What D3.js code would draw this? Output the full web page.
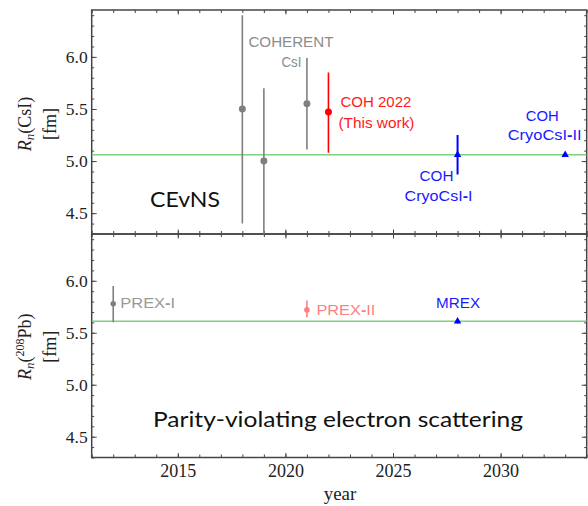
<!DOCTYPE html>
<html>
<head>
<meta charset="utf-8">
<script src="https://cdn.jsdelivr.net/npm/d3@7"></script>
<style>
  body { margin: 0; background: #fff; }
  svg { display: block; }
</style>
</head>
<body>
<svg id="chart" width="588" height="506"></svg>
<script>
// ---- CEvNS determinations of the CsI neutron radius ----
const cevnsYears = [2018, 2019, 2021, 2022, 2028, 2033];
const cevnsRn    = [5.50, 5.00, 5.55, 5.47, 5.06, 5.06];
const cevnsLow   = [4.40, 3.60, 5.11, 5.08, 4.87, 5.04];
const cevnsHigh  = [6.40, 5.70, 5.99, 5.85, 5.25, 5.08];
const cevnsGroup = ["COHERENT", "COHERENT", "COHERENT", "COH2022", "CryoCsI", "CryoCsI"];

// ---- Parity-violating electron scattering on 208Pb ----
const pvesYears = [2012, 2021, 2028];
const pvesRn    = [5.78, 5.72, 5.61];
const pvesLow   = [5.60, 5.65, 5.59];
const pvesHigh  = [5.95, 5.81, 5.63];
const pvesGroup = ["PREX-I", "PREX-II", "MREX"];

// reference (theory) radii drawn as horizontal lines
const refCsI = 5.06;
const refPb  = 5.61;

// axis ticks
const yearTicks = [2015, 2020, 2025, 2030];
const rnTicks   = [4.5, 5.0, 5.5, 6.0];
const yearDomain = [2011, 2034];
const rnDomain   = [4.3, 6.45];

// ---------------------------------------------------------------
const svg = d3.select("#chart");
const left = 91.7, right = 586.7;
const topPanel = { top: 10, bottom: 234 };
const botPanel = { top: 234, bottom: 457.5 };

const x  = d3.scaleLinear().domain(yearDomain).range([left, right]);
const yA = d3.scaleLinear().domain(rnDomain).range([topPanel.bottom, topPanel.top]);
const yB = d3.scaleLinear().domain(rnDomain).range([botPanel.bottom, botPanel.top]);

const colors = {
  "COHERENT": "#7f7f7f",
  "COH2022": "#ff0000",
  "CryoCsI": "#0000ff",
  "PREX-I": "#808080",
  "PREX-II": "#ff8080",
  "MREX": "#0000ff"
};

const frameColor = "#454545";
const serif = "'Liberation Serif', 'Times New Roman', serif";
const sans = "'Liberation Sans', Arial, sans-serif";
const bigSans = "Lato, 'Open Sans', sans-serif";

const defs = svg.append("defs");
[["clipA", topPanel], ["clipB", botPanel]].forEach(([id, p]) => {
  defs.append("clipPath").attr("id", id)
    .append("rect").attr("x", left).attr("y", p.top)
    .attr("width", right - left).attr("height", p.bottom - p.top);
});

function styleAxis(g) {
  g.select(".domain").remove();
  g.selectAll(".tick line").attr("stroke", frameColor).attr("stroke-width", 1);
}

const minorRn = d3.range(43, 65).map(d => d / 10);
const minorYears = d3.range(yearDomain[0], yearDomain[1] + 1);

function drawFrame(y, p, withYearLabels) {
  const g = svg.append("g");
  // left axis with labels
  g.append("g").attr("transform", `translate(${left},0)`)
    .call(d3.axisLeft(y).tickValues(rnTicks).tickSizeInner(-5).tickSizeOuter(0)
      .tickPadding(4).tickFormat(d3.format(".1f")))
    .call(styleAxis)
    .call(a => a.selectAll("text").attr("font-family", serif).attr("font-size", 17.5).attr("fill", "#222"));
  g.append("g").attr("transform", `translate(${left},0)`)
    .call(d3.axisLeft(y).tickValues(minorRn).tickSize(-2.5).tickFormat(""))
    .call(styleAxis);
  // right axis
  g.append("g").attr("transform", `translate(${right},0)`)
    .call(d3.axisRight(y).tickValues(rnTicks).tickSize(-5).tickFormat(""))
    .call(styleAxis);
  g.append("g").attr("transform", `translate(${right},0)`)
    .call(d3.axisRight(y).tickValues(minorRn).tickSize(-2.5).tickFormat(""))
    .call(styleAxis);
  // top edge ticks (pointing down into the panel)
  g.append("g").attr("transform", `translate(0,${p.top})`)
    .call(d3.axisTop(x).tickValues(minorYears).tickSize(-3).tickFormat(""))
    .call(styleAxis);
  g.append("g").attr("transform", `translate(0,${p.top})`)
    .call(d3.axisTop(x).tickValues(yearTicks).tickSize(-4.5).tickFormat(""))
    .call(styleAxis);
  // bottom edge ticks (pointing up into the panel)
  g.append("g").attr("transform", `translate(0,${p.bottom})`)
    .call(d3.axisBottom(x).tickValues(minorYears).tickSize(-3).tickFormat(""))
    .call(styleAxis);
  g.append("g").attr("transform", `translate(0,${p.bottom})`)
    .call(d3.axisBottom(x).tickValues(yearTicks).tickSizeInner(-4.5).tickSizeOuter(0)
      .tickPadding(6.5).tickFormat(withYearLabels ? d3.format("d") : ""))
    .call(styleAxis)
    .call(a => a.selectAll("text").attr("font-family", serif).attr("font-size", 18).attr("fill", "#222"));
  // frame
  g.append("rect").attr("x", left).attr("y", p.top)
    .attr("width", right - left).attr("height", p.bottom - p.top)
    .attr("fill", "none").attr("stroke", frameColor).attr("stroke-width", 1.5);
}

function drawSeries(y, clip, years, rn, lo, hi, groups, refValue, markerFor) {
  const g = svg.append("g").attr("clip-path", `url(#${clip})`);
  g.append("line")
    .attr("x1", left).attr("x2", right)
    .attr("y1", y(refValue)).attr("y2", y(refValue))
    .attr("stroke", "#7fd07f").attr("stroke-width", 1.6);
  const idx = d3.range(years.length);
  g.selectAll("line.err").data(idx).join("line").attr("class", "err")
    .attr("x1", i => x(years[i])).attr("x2", i => x(years[i]))
    .attr("y1", i => y(lo[i])).attr("y2", i => y(hi[i]))
    .attr("stroke", i => colors[groups[i]])
    .attr("stroke-width", i => groups[i] === "CryoCsI" ? 2 : 1.6);
  g.selectAll("path.pt").data(idx).join("path").attr("class", "pt")
    .attr("transform", i => `translate(${x(years[i])},${y(rn[i])})`)
    .attr("d", i => markerFor(groups[i]))
    .attr("fill", i => colors[groups[i]]);
}

const circleBig = d3.symbol(d3.symbolCircle, 38)();
const circleSmall = d3.symbol(d3.symbolCircle, 24)();
const triangle = d3.symbol(d3.symbolTriangle, 24)();

drawFrame(yA, topPanel, false);
drawFrame(yB, botPanel, true);

drawSeries(yA, "clipA", cevnsYears, cevnsRn, cevnsLow, cevnsHigh, cevnsGroup, refCsI,
  grp => grp === "CryoCsI" ? triangle : circleBig);
drawSeries(yB, "clipB", pvesYears, pvesRn, pvesLow, pvesHigh, pvesGroup, refPb,
  grp => grp === "MREX" ? triangle : circleSmall);

// ---- annotations ----
// each part: [text, bold?]; hyphens in experiment names are drawn heavy
function note(parts, px, py, anchor, color, width, size) {
  const t = svg.append("text")
    .attr("x", px).attr("y", py)
    .attr("text-anchor", anchor)
    .attr("font-family", sans).attr("font-size", size || 15)
    .attr("fill", color);
  parts.forEach(([s, b]) => t.append("tspan").text(s).attr("font-weight", b ? "bold" : null));
  if (width) t.attr("textLength", width).attr("lengthAdjust", "spacingAndGlyphs");
  return t;
}

const xc = yr => x(yr);
const gray = "#8c8c8c";
note([["COHERENT"]], xc(2021) - 16, 46.7, "middle", gray, 85);
note([["CsI"]], xc(2021) - 15.5, 66.7, "middle", gray, 20);
note([["COH 2022"]], xc(2022) + 47.5, 107.3, "middle", "#ff1a1a", 71);
note([["(This work)"]], xc(2022) + 48, 127.5, "middle", "#ff1a1a", 76);
note([["COH"]], xc(2028) - 21, 180.7, "middle", "#1a1aff", 34);
note([["CryoCsI"], ["-", true], ["I"]], xc(2028) - 19, 201, "middle", "#1a1aff", 68);
note([["COH"]], xc(2033) - 23, 120.7, "middle", "#1a1aff", 33);
note([["CryoCsI"], ["-", true], ["II"]], xc(2033) - 20.5, 140, "middle", "#1a1aff", 74);
note([["PREX"], ["-", true], ["I"]], xc(2012) + 7, 308.3, "start", "#999999", 55);
note([["PREX"], ["-", true], ["II"]], xc(2021) + 9.5, 315, "start", "#ff8080", 59);
note([["MREX"]], xc(2028) + 0.5, 308.3, "middle", "#1a1aff", 44);

// panel titles
svg.append("text").attr("x", 150).attr("y", 207)
  .attr("font-family", bigSans).attr("font-size", 21).attr("fill", "#111")
  .attr("textLength", 70).attr("lengthAdjust", "spacingAndGlyphs")
  .text("CEvNS");
svg.append("text").attr("x", 153).attr("y", 427)
  .attr("font-family", bigSans).attr("font-size", 22).attr("fill", "#111")
  .attr("textLength", 370).attr("lengthAdjust", "spacingAndGlyphs")
  .text("Parity-violating electron scattering");

// ---- axis titles ----
function yTitle(cy, build) {
  const g1 = svg.append("text")
    .attr("transform", `translate(31,${cy}) rotate(-90)`)
    .attr("text-anchor", "middle")
    .attr("font-family", serif).attr("font-size", 18).attr("fill", "#222");
  build(g1);
  svg.append("text")
    .attr("transform", `translate(56,${cy}) rotate(-90)`)
    .attr("text-anchor", "middle")
    .attr("font-family", serif).attr("font-size", 18).attr("fill", "#222")
    .text("[fm]");
}

yTitle((topPanel.top + topPanel.bottom) / 2 + 2, t => {
  t.append("tspan").attr("font-style", "italic").text("R");
  t.append("tspan").attr("font-style", "italic").attr("font-size", 13).attr("dy", 3).text("n");
  t.append("tspan").attr("dy", -3).text("(CsI)");
});
yTitle((botPanel.top + botPanel.bottom) / 2 + 1, t => {
  t.append("tspan").attr("font-style", "italic").text("R");
  t.append("tspan").attr("font-style", "italic").attr("font-size", 13).attr("dy", 3).text("n");
  t.append("tspan").attr("dy", -3).text("(");
  t.append("tspan").attr("font-size", 12).attr("dy", -7).text("208");
  t.append("tspan").attr("dy", 7).text("Pb)");
});

svg.append("text").attr("x", 340).attr("y", 500)
  .attr("text-anchor", "middle")
  .attr("font-family", serif).attr("font-size", 19).attr("fill", "#222")
  .text("year");
</script>
</body>
</html>
